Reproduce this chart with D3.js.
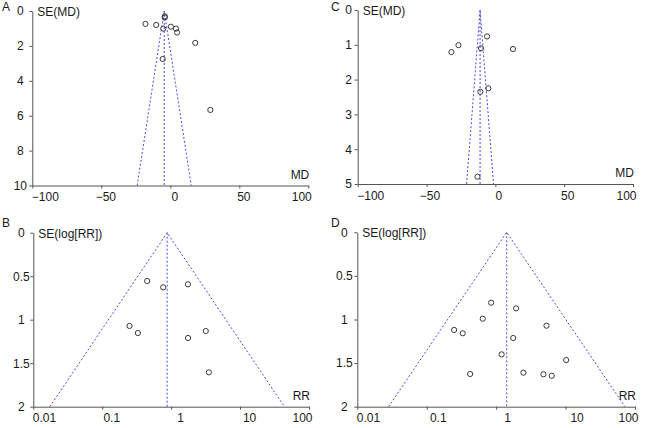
<!DOCTYPE html>
<html>
<head>
<meta charset="utf-8">
<script src="https://cdn.jsdelivr.net/npm/d3@7"></script>
<style>
  html, body { margin: 0; padding: 0; background: #fff; }
  svg { display: block; font-family: "Liberation Sans", Arial, sans-serif; }
</style>
</head>
<body>
<svg id="chart" width="647" height="428"></svg>
<script>
// ---------- data ----------
// Panel A (MD)
const aMD = [-4, -4, -18, -10.2, -5.1, 0.4, 4.1, 4.9, 18.1, -5.5, 29];
const aSE = [0.30, 0.37, 0.74, 0.80, 1.01, 0.90, 1.01, 1.23, 1.83, 2.75, 5.67];
const aPooled = -4.4;
// Panel C (MD)
const cMD = [-6.0, -26.8, -31.9, -10.4, 12.8, -10.9, -5.1, -13.0];
const cSE = [0.76, 1.01, 1.21, 1.10, 1.12, 2.35, 2.25, 4.79];
const cPooled = -11.1;
// Panel B (RR)
const bRR = [0.449, 0.766, 1.75, 0.249, 0.329, 1.76, 3.18, 3.52];
const bSE = [0.555, 0.628, 0.593, 1.072, 1.153, 1.21, 1.13, 1.605];
const bPooled = 0.875;
// Panel D (RR)
const dRR = [0.847, 1.94, 0.641, 0.248, 0.330, 5.31, 1.76, 1.20, 10.2, 0.422, 2.47, 4.8, 6.33];
const dSE = [0.807, 0.872, 0.991, 1.12, 1.158, 1.071, 1.212, 1.40, 1.465, 1.625, 1.61, 1.628, 1.645];
const dPooled = 1.42;

// tick values / labels
const mdTicks = [-100, -50, 0, 50, 100];
const rrTicks = [0.01, 0.1, 1, 10, 100];
const aYTicks = [0, 2, 4, 6, 8, 10];
const cYTicks = [0, 1, 2, 3, 4, 5];
const rrYTicks = [0, 0.5, 1, 1.5, 2];

const svg = d3.select("#chart");
const AXIS = "#555";
const FUNNEL = "#4a4af0";
const TXT = "#1a1a1a";

function panel(cfg) {
  const g = svg.append("g");
  const x = cfg.log
    ? d3.scaleLog().domain([0.01, 100]).range(cfg.xr)
    : d3.scaleLinear().domain([-100, 100]).range(cfg.xr);
  const y = d3.scaleLinear().domain([0, cfg.seMax]).range(cfg.yr);

  // funnel
  const c = cfg.pooled;
  const z = 1.96 * cfg.seMax;
  const lo = cfg.log ? Math.exp(Math.log(c) - z) : c - z;
  const hi = cfg.log ? Math.exp(Math.log(c) + z) : c + z;
  const lines = [
    [[lo, cfg.seMax], [c, 0], [hi, cfg.seMax]],
    [[c, 0], [c, cfg.seMax]]
  ];
  const line = d3.line().x(d => x(d[0])).y(d => y(d[1]));
  g.selectAll("path.funnel").data(lines).enter().append("path")
    .attr("class", "funnel")
    .attr("d", line)
    .attr("fill", "none")
    .attr("stroke", FUNNEL)
    .attr("stroke-width", 1)
    .attr("stroke-dasharray", "2,2");

  // axes
  const xAxis = d3.axisBottom(x).tickValues(cfg.xTicks).tickSize(3).tickSizeOuter(0).tickPadding(4)
    .tickFormat(d => cfg.log ? String(d) : d3.format("d")(d));
  const gx = g.append("g").attr("transform", `translate(0,${cfg.yr[1]})`).call(xAxis);
  const yAxis = d3.axisLeft(y).tickValues(cfg.yTicks).tickSize(3).tickSizeOuter(0).tickPadding(4)
    .tickFormat(d => String(d));
  const gy = g.append("g").attr("transform", `translate(${cfg.xr[0]},0)`).call(yAxis);
  [gx, gy].forEach(a => {
    a.select(".domain").attr("stroke", AXIS);
    a.selectAll(".tick line").attr("stroke", AXIS);
    a.selectAll("text").attr("fill", TXT).attr("font-size", 12)
      .attr("font-family", '"Liberation Sans", Arial, sans-serif');
  });
  gy.selectAll("text").attr("text-anchor", "middle").attr("x", cfg.yLabX);
  const n = cfg.xTicks.length;
  gx.selectAll("text").each(function(d, i) {
    const t = d3.select(this);
    if (i === 0) t.attr("text-anchor", "start").attr("x", -1);
    else if (i === n - 1) t.attr("text-anchor", "end").attr("x", 3);
    else t.attr("x", cfg.midShift);
  });

  // points
  g.selectAll("circle").data(cfg.xs.map((v, i) => [v, cfg.se[i]])).enter().append("circle")
    .attr("cx", d => x(d[0]))
    .attr("cy", d => y(d[1]))
    .attr("r", 2.6)
    .attr("fill", "none")
    .attr("stroke", "#3a3a3a")
    .attr("stroke-width", 1);

  // labels
  g.append("text").text(cfg.yLab).attr("x", cfg.xr[0] + 5).attr("y", cfg.yr[0] + cfg.yLabDy)
    .attr("font-size", 12).attr("fill", TXT);
  g.append("text").text(cfg.xLab).attr("x", cfg.xr[1] + 1).attr("y", cfg.yr[1] - 7)
    .attr("text-anchor", "end").attr("font-size", 12).attr("fill", TXT);
  g.append("text").text(cfg.letter).attr("x", cfg.letterX).attr("y", cfg.letterY)
    .attr("font-size", 12).attr("fill", TXT);
}

panel({ letter: "A", letterX: 2, letterY: 11, log: false, xr: [32.3, 308.3], yr: [11, 185.5], seMax: 10,
  xTicks: mdTicks, yTicks: aYTicks, pooled: aPooled, xs: aMD, se: aSE, yLab: "SE(MD)", xLab: "MD",
  yLabDy: 5, yLabX: -12, midShift: 4 });
panel({ letter: "C", letterX: 331, letterY: 11, log: false, xr: [357.7, 633], yr: [10, 184], seMax: 5,
  xTicks: mdTicks, yTicks: cYTicks, pooled: cPooled, xs: cMD, se: cSE, yLab: "SE(MD)", xLab: "MD",
  yLabDy: 5, yLabX: -9, midShift: 3 });
panel({ letter: "B", letterX: 2, letterY: 227, log: true, xr: [33.3, 309], yr: [232.7, 406.7], seMax: 2,
  xTicks: rrTicks, yTicks: rrYTicks, pooled: bPooled, xs: bRR, se: bSE, yLab: "SE(log[RR])", xLab: "RR",
  yLabDy: 5, yLabX: -12, midShift: 9 });
panel({ letter: "D", letterX: 331, letterY: 227, log: true, xr: [357.3, 635], yr: [232.3, 406.7], seMax: 2,
  xTicks: rrTicks, yTicks: rrYTicks, pooled: dPooled, xs: dRR, se: dSE, yLab: "SE(log[RR])", xLab: "RR",
  yLabDy: 5, yLabX: -13, midShift: 11 });
</script>
</body>
</html>
